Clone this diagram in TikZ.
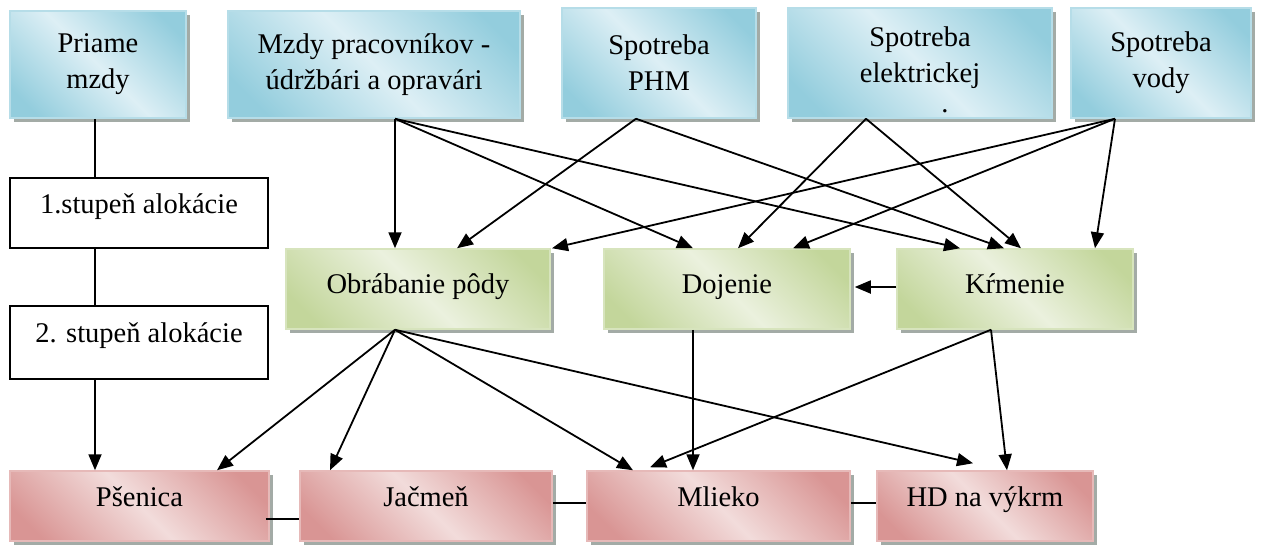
\documentclass[tikz,border=0pt]{standalone}
\usepackage{fontspec}
\setmainfont{Liberation Serif}
\newfontfamily\tnr{Liberation Serif}
\usetikzlibrary{arrows.meta,shadows,calc}
\definecolor{bdark}{HTML}{93CDDD}
\definecolor{blight}{HTML}{DDEFF5}
\definecolor{bline}{HTML}{B6DDE8}
\definecolor{gdark}{HTML}{C3D69B}
\definecolor{glight}{HTML}{EBF1DE}
\definecolor{gline}{HTML}{D7E4BD}
\definecolor{rdark}{HTML}{D99594}
\definecolor{rlight}{HTML}{F2DCDB}
\definecolor{rline}{HTML}{E6B9B8}
\definecolor{shadowc}{HTML}{A3ABA6}
\pgfdeclarehorizontalshading{bband}{100bp}{color(0bp)=(bdark); color(22bp)=(bdark); color(50bp)=(blight); color(78bp)=(bdark); color(100bp)=(bdark)}
\pgfdeclarehorizontalshading{gband}{100bp}{color(0bp)=(gdark); color(22bp)=(gdark); color(50bp)=(glight); color(78bp)=(gdark); color(100bp)=(gdark)}
\pgfdeclarehorizontalshading{rband}{100bp}{color(0bp)=(rdark); color(22bp)=(rdark); color(50bp)=(rlight); color(78bp)=(rdark); color(100bp)=(rdark)}
\begin{document}
\begin{tikzpicture}[x=1pt,y=-1pt,
  font=\tnr\fontsize{28.5}{36}\selectfont,
  box/.style={rectangle, inner sep=0pt, align=center, line width=1.5pt,
    drop shadow={shadow xshift=4pt, shadow yshift=-4pt, fill=shadowc, opacity=1}},
  sz/.style 2 args={minimum width=#1, minimum height=#2},
  bluebox/.style={box, draw=bline, shading=bband, shading angle=45},
  greenbox/.style={box, draw=gline, shading=gband, shading angle=45, text height=20pt, text depth=12pt},
  redbox/.style={box, draw=rline, shading=rband, shading angle=45, text height=20pt, text depth=20pt},
  plainbox/.style={rectangle, inner sep=0pt, draw=black, line width=1.5pt, fill=white, text depth=20pt, text height=20pt},
  ln/.style={line width=1.8pt},
  arr/.style={line width=1.8pt, -{Triangle[length=16pt,width=13pt]}}]
\useasboundingbox (0,0) rectangle (1272,552);

% top row
\node[bluebox, sz={176pt}{107pt}] (priame) at (98,64.5) {Priame\\mzdy};
\node[bluebox, sz={292pt}{107pt}] (mzdy) at (374,64.5) {Mzdy pracovníkov -\\údržbári a opravári};
\node[bluebox, sz={194pt}{110pt}] (phm) at (659,63) {Spotreba\\PHM};
\node[bluebox, sz={264pt}{110pt}] (elek) at (920,63) {\rule{0pt}{34pt}Spotreba\\elektrickej\\[-6pt]\hspace*{50pt}.};
\node[bluebox, sz={180pt}{110pt}] (vody) at (1161,63) {Spotreba\\vody};

% left column
\node[plainbox, sz={258pt}{70pt}] (a1) at (139,213) {1.stupeň alokácie};
\node[plainbox, sz={258pt}{73pt}] (a2) at (139,342.5) {2. stupeň alokácie};

% middle row
\node[greenbox, sz={264pt}{80pt}] (obr) at (418,289) {Obrábanie pôdy};
\node[greenbox, sz={246pt}{80pt}] (doj) at (727,289) {Dojenie};
\node[greenbox, sz={236pt}{80pt}] (krm) at (1015,289) {Kŕmenie};

% bottom row
\node[redbox, sz={259pt}{70pt}] (psen) at (139.5,506) {Pšenica};
\node[redbox, sz={252pt}{70pt}] (jac) at (426,506) {Jačmeň};
\node[redbox, sz={263pt}{70pt}] (mlie) at (718.5,506) {Mlieko};
\node[redbox, sz={216pt}{70pt}] (hd) at (985,506) {HD na výkrm};

% left chain
\draw[ln] (priame.south -| 95,0) -- (a1.north -| 95,0);
\draw[ln] (a1.south -| 95,0) -- (a2.north -| 95,0);
\draw[arr] (a2.south -| 95,0) -- (psen.north -| 95,0);

% top to middle
\draw[arr] (mzdy.south -| 395,0) -- (obr.north -| 395,0);
\draw[arr] (mzdy.south -| 395,0) -- (doj.north -| 693,0);
\draw[arr] (mzdy.south -| 395,0) -- (krm.north -| 960,0);
\draw[arr] (phm.south -| 636,0) -- (obr.north -| 457,0);
\draw[arr] (phm.south -| 636,0) -- (krm.north -| 1004,0);
\draw[arr] (elek.south -| 866,0) -- (doj.north -| 738,0);
\draw[arr] (elek.south -| 866,0) -- (krm.north -| 1021,0);
\draw[arr] (vody.south -| 1115,0) -- (obr.north -| 552,0);
\draw[arr] (vody.south -| 1115,0) -- (doj.north -| 793,0);
\draw[arr] (vody.south -| 1115,0) -- (krm.north -| 1095,0);

% middle
\draw[arr] (krm.west |- 0,287) -- ($(doj.east |- 0,287)+(4,0)$);

% middle to bottom
\draw[arr] (obr.south -| 395,0) -- (psen.north -| 217,0);
\draw[arr] (obr.south -| 395,0) -- (jac.north -| 330,0);
\draw[arr] (obr.south -| 395,0) -- (mlie.north -| 633,0);
\draw[arr] (obr.south -| 395,0) -- ($(hd.north -| 973,0)+(0,-7)$);
\draw[arr] (doj.south -| 693,0) -- (mlie.north -| 693,0);
\draw[arr] (krm.south -| 991,0) -- ($(mlie.north -| 650,0)+(0,-3)$);
\draw[arr] (krm.south -| 991,0) -- (hd.north -| 1007,0);

% bottom links
\draw[ln] ($(psen.east |- 0,519)+(-4,0)$) -- (jac.west |- 0,519);
\draw[ln] (jac.east |- 0,503) -- (mlie.west |- 0,503);
\draw[ln] (mlie.east |- 0,503) -- (hd.west |- 0,503);
\end{tikzpicture}
\end{document}
